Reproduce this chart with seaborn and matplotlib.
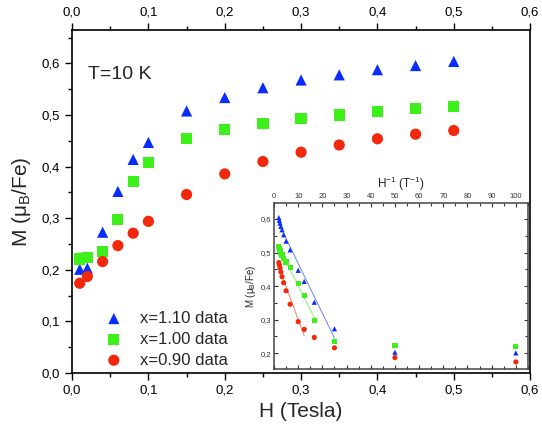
import numpy as np
import pandas as pd
import matplotlib
matplotlib.use("Agg")
import matplotlib.pyplot as plt
import seaborn as sns
from matplotlib.ticker import MultipleLocator, FuncFormatter

# ----------------------
# Data
# ----------------------
field = [0.01, 0.02, 0.04, 0.06, 0.08, 0.10, 0.15, 0.20, 0.25, 0.30, 0.35, 0.40, 0.45, 0.50]
m_110 = [0.201, 0.203, 0.273, 0.352, 0.414, 0.447, 0.508, 0.534, 0.553, 0.568, 0.578, 0.588, 0.596, 0.604]
m_100 = [0.221, 0.224, 0.236, 0.297, 0.371, 0.408, 0.455, 0.472, 0.483, 0.493, 0.500, 0.507, 0.512, 0.517]
m_090 = [0.174, 0.187, 0.216, 0.247, 0.271, 0.294, 0.346, 0.386, 0.410, 0.428, 0.442, 0.454, 0.463, 0.470]

labels = ["x=1.10 data", "x=1.00 data", "x=0.90 data"]
colors = ["#0a2dff", "#3ef01a", "#f2280c"]
markers = ["^", "s", "o"]
# field range (in 1/H) of the linear guide lines in the inset
fit_max_inv = [25.0, 16.7, 12.5]

series = [m_110, m_100, m_090]

# ----------------------
# Style
# ----------------------
sns.set_style("ticks")
plt.rcParams["font.family"] = ["Liberation Sans", "DejaVu Sans"]
plt.rcParams["mathtext.default"] = "regular"

comma = FuncFormatter(lambda v, pos: f"{v:.1f}".replace(".", ","))
comma_int = FuncFormatter(lambda v, pos: f"{v:.0f}")

fig = plt.figure(figsize=(5.42, 4.28), dpi=100)
ax = fig.add_axes([0.133, 0.1285, 0.845, 0.8015])

for vals, lab, col, mk in zip(series, labels, colors, markers):
    df = pd.DataFrame({"H": field, "M": vals})
    sns.scatterplot(data=df, x="H", y="M", ax=ax, color=col, marker=mk,
                    s=65, edgecolor="none", label=lab)

ax.set_xlim(0, 0.6)
ax.set_ylim(0, 0.665)
ax.xaxis.set_major_locator(MultipleLocator(0.1))
ax.xaxis.set_minor_locator(MultipleLocator(0.05))
ax.yaxis.set_major_locator(MultipleLocator(0.1))
ax.yaxis.set_minor_locator(MultipleLocator(0.05))
ax.xaxis.set_major_formatter(comma)
ax.yaxis.set_major_formatter(comma)
ax.tick_params(which="both", direction="out", top=True, labeltop=True,
               right=False, labelsize=9.5, colors="black")
ax.tick_params(which="major", length=5, width=1)
ax.tick_params(which="minor", length=3, width=1)
for sp in ax.spines.values():
    sp.set_color("black")
    sp.set_linewidth(1.2)
ax.set_xlabel("H (Tesla)", fontsize=15, labelpad=4)
ax.set_ylabel("M (μ$_B$/Fe)", fontsize=15, labelpad=6)
ax.text(0.021, 0.578, "T=10 K", fontsize=14, va="center")

leg = ax.legend(loc="lower left", bbox_to_anchor=(0.022, -0.028), frameon=False,
                fontsize=12, handletextpad=0.6, labelspacing=0.35,
                markerscale=1.0)

# ----------------------
# Inset: M vs 1/H
# ----------------------
axin = fig.add_axes([0.5055, 0.1379, 0.4686, 0.388])
axin.set_facecolor("white")
inv_h = [1.0 / h for h in field]
for vals, col, mk, xmax in zip(series, colors, markers, fit_max_inv):
    df = pd.DataFrame({"invH": inv_h, "M": vals})
    sns.scatterplot(data=df, x="invH", y="M", ax=axin, color=col, marker=mk,
                    s=14, edgecolor="none", legend=False)
    sel = df[df["invH"] <= xmax + 0.1]
    k, b = np.polyfit(sel["invH"], sel["M"], 1)
    xs = np.array([sel["invH"].min(), xmax])
    axin.plot(xs, k * xs + b, color=col, lw=0.7, alpha=0.6)

axin.set_xlim(0, 105)
axin.set_ylim(0.153, 0.648)
axin.xaxis.set_major_locator(MultipleLocator(10))
axin.xaxis.set_minor_locator(MultipleLocator(5))
axin.yaxis.set_major_locator(MultipleLocator(0.1))
axin.yaxis.set_minor_locator(MultipleLocator(0.05))
axin.xaxis.set_major_formatter(comma_int)
axin.yaxis.set_major_formatter(comma)
axin.tick_params(which="both", direction="in", top=True, bottom=True,
                 left=True, right=True, labeltop=True, labelbottom=False,
                 labelsize=5.5, colors="#333333", pad=2)
axin.tick_params(which="major", length=3, width=0.8)
axin.tick_params(which="minor", length=2, width=0.8)
for sp in axin.spines.values():
    sp.set_color("#444444")
    sp.set_linewidth(1.1)
axin.set_xlabel("")
axin.set_ylabel("M (μ$_B$/Fe)", fontsize=7, labelpad=2)
axin.set_title("H$^{-1}$ (T$^{-1}$)", fontsize=8.5, pad=4)

fig.savefig("out.png", dpi=100)
